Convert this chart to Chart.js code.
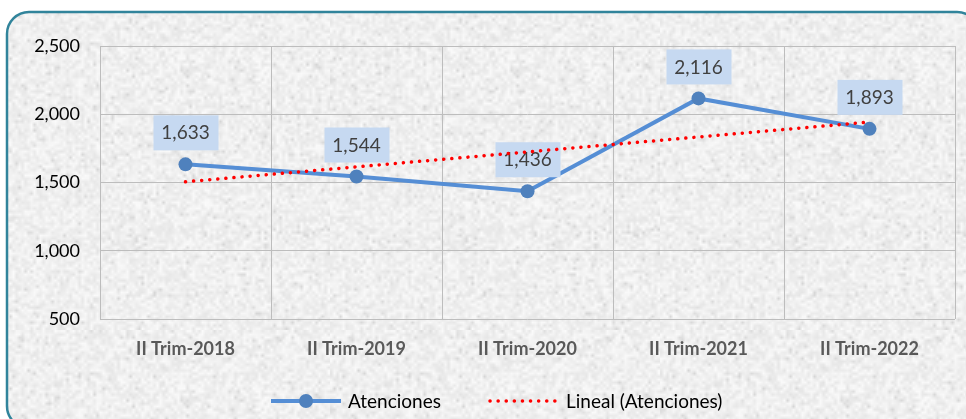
<!DOCTYPE html>
<html>
<head>
<meta charset="utf-8">
<script src="https://cdn.jsdelivr.net/npm/chart.js@4.4.1/dist/chart.umd.min.js"></script>
<style>
  html, body { margin: 0; padding: 0; background: #fff; }
  canvas { display: block; }
</style>
</head>
<body>
<canvas id="chart" width="966" height="419"></canvas>
<script>
// data
const categories = ['II Trim-2018', 'II Trim-2019', 'II Trim-2020', 'II Trim-2021', 'II Trim-2022'];
const atenciones = [1633, 1544, 1436, 2116, 1893];
// trend line: only the two end points, drawn straight across
const lineal = [1505, null, null, null, 1943];
const yTicks = [500, 1000, 1500, 2000, 2500];

const FONT = 'Lato, "Noto Sans", sans-serif';
const BLUE_LINE = '#558ED5';
const BLUE_DOT = '#4F81BD';
const RED = '#FF0000';

// granite-like texture for the background (deterministic)
function makeTexture() {
    const small = document.createElement('canvas');
    small.width = 110; small.height = 110;
    const sctx = small.getContext('2d');
    const img = sctx.createImageData(110, 110);
    function hash(n) {
        const x = Math.sin(n * 12.9898 + 78.233) * 43758.5453;
        return x - Math.floor(x);
    }
    for (let i = 0; i < 110 * 110; i++) {
        const h = hash(i);
        let v = 230 + h * 20;
        if (hash(i + 5000) > 0.94) v -= 16;
        img.data[i * 4] = v;
        img.data[i * 4 + 1] = v;
        img.data[i * 4 + 2] = v;
        img.data[i * 4 + 3] = 255;
    }
    sctx.putImageData(img, 0, 0);
    const big = document.createElement('canvas');
    big.width = 330; big.height = 330;
    const bctx = big.getContext('2d');
    bctx.imageSmoothingEnabled = true;
    bctx.drawImage(small, 0, 0, 330, 330);
    return big;
}
const texture = makeTexture();

const backgroundPlugin = {
    id: 'background',
    beforeDraw(chart) {
        const ctx = chart.ctx;
        ctx.save();
        ctx.fillStyle = '#fff';
        ctx.fillRect(0, 0, chart.width, chart.height);
        ctx.beginPath();
        ctx.roundRect(7, 12, 972, 416, 22);
        ctx.save();
        ctx.clip();
        ctx.fillStyle = ctx.createPattern(texture, 'repeat');
        ctx.fillRect(0, 0, chart.width, chart.height);
        ctx.restore();
        ctx.lineWidth = 2.5;
        ctx.strokeStyle = '#31849B';
        ctx.stroke();
        ctx.restore();
    }
};

// value boxes above the points, drawn before the trend line
const labelPlugin = {
    id: 'valueLabels',
    afterDatasetDraw(chart, args) {
        if (args.index !== 0) return;
        const ctx = chart.ctx;
        ctx.save();
        ctx.font = '19px ' + FONT;
        ctx.textAlign = 'center';
        ctx.textBaseline = 'middle';
        args.meta.data.forEach((pt, i) => {
            const text = atenciones[i].toLocaleString('en-US');
            const cx = pt.x;
            const cy = pt.y - 32;
            ctx.fillStyle = '#C6D9F1';
            ctx.fillRect(cx - 32, cy - 17, 65, 35);
            ctx.fillStyle = '#404040';
            ctx.fillText(text, cx, cy + 1);
        });
        ctx.restore();
    }
};

// legend at the bottom, Excel style
const legendPlugin = {
    id: 'bottomLegend',
    afterDraw(chart) {
        const ctx = chart.ctx;
        const y = 401;
        ctx.save();
        // Atenciones
        ctx.strokeStyle = BLUE_LINE;
        ctx.lineWidth = 4;
        ctx.beginPath();
        ctx.moveTo(271, y);
        ctx.lineTo(341, y);
        ctx.stroke();
        ctx.fillStyle = BLUE_DOT;
        ctx.beginPath();
        ctx.arc(306, y, 7, 0, Math.PI * 2);
        ctx.fill();
        // Lineal
        ctx.strokeStyle = RED;
        ctx.lineWidth = 3.5;
        ctx.lineCap = 'round';
        ctx.setLineDash([0.1, 8]);
        ctx.beginPath();
        ctx.moveTo(490, y);
        ctx.lineTo(558, y);
        ctx.stroke();
        ctx.setLineDash([]);
        ctx.font = '19px ' + FONT;
        ctx.fillStyle = '#000';
        ctx.textBaseline = 'middle';
        ctx.textAlign = 'left';
        ctx.fillText(chart.data.datasets[0].label, 348, y + 1);
        ctx.fillText(chart.data.datasets[1].label, 566, y + 1);
        ctx.restore();
    }
};

new Chart(document.getElementById('chart'), {
    type: 'line',
    data: {
        labels: categories,
        datasets: [{
            label: 'Atenciones',
            data: atenciones,
            borderColor: BLUE_LINE,
            backgroundColor: BLUE_DOT,
            borderWidth: 4,
            pointRadius: 7,
            pointBackgroundColor: BLUE_DOT,
            pointBorderWidth: 0,
            tension: 0,
            order: 1
        }, {
            label: 'Lineal (Atenciones)',
            data: lineal,
            spanGaps: true,
            borderColor: RED,
            borderWidth: 3.5,
            borderDash: [0.1, 8],
            borderCapStyle: 'round',
            pointRadius: 0,
            order: 0
        }]
    },
    options: {
        responsive: false,
        animation: false,
        layout: { padding: { left: 0, right: 11, top: 46, bottom: 0 } },
        plugins: {
            legend: { display: false },
            tooltip: { enabled: false }
        },
        scales: {
            x: {
                offset: true,
                grid: { offset: true, color: '#BDBDBD', lineWidth: 1, drawTicks: false },
                border: { display: false },
                ticks: {
                    padding: 19,
                    color: '#595959',
                    font: { family: FONT, size: 18, weight: 'bold' }
                },
                afterFit(scale) { scale.height = 100; }
            },
            y: {
                min: 500,
                max: 2500,
                grid: { color: '#BDBDBD', lineWidth: 1, drawTicks: false },
                border: { display: false },
                afterBuildTicks(scale) { scale.ticks = yTicks.map(v => ({ value: v })); },
                ticks: {
                    padding: 20,
                    color: '#000',
                    font: { family: FONT, size: 18 },
                    callback: v => v.toLocaleString('en-US')
                },
                afterFit(scale) { scale.width = 100; }
            }
        }
    },
    plugins: [backgroundPlugin, labelPlugin, legendPlugin]
});
</script>
</body>
</html>
